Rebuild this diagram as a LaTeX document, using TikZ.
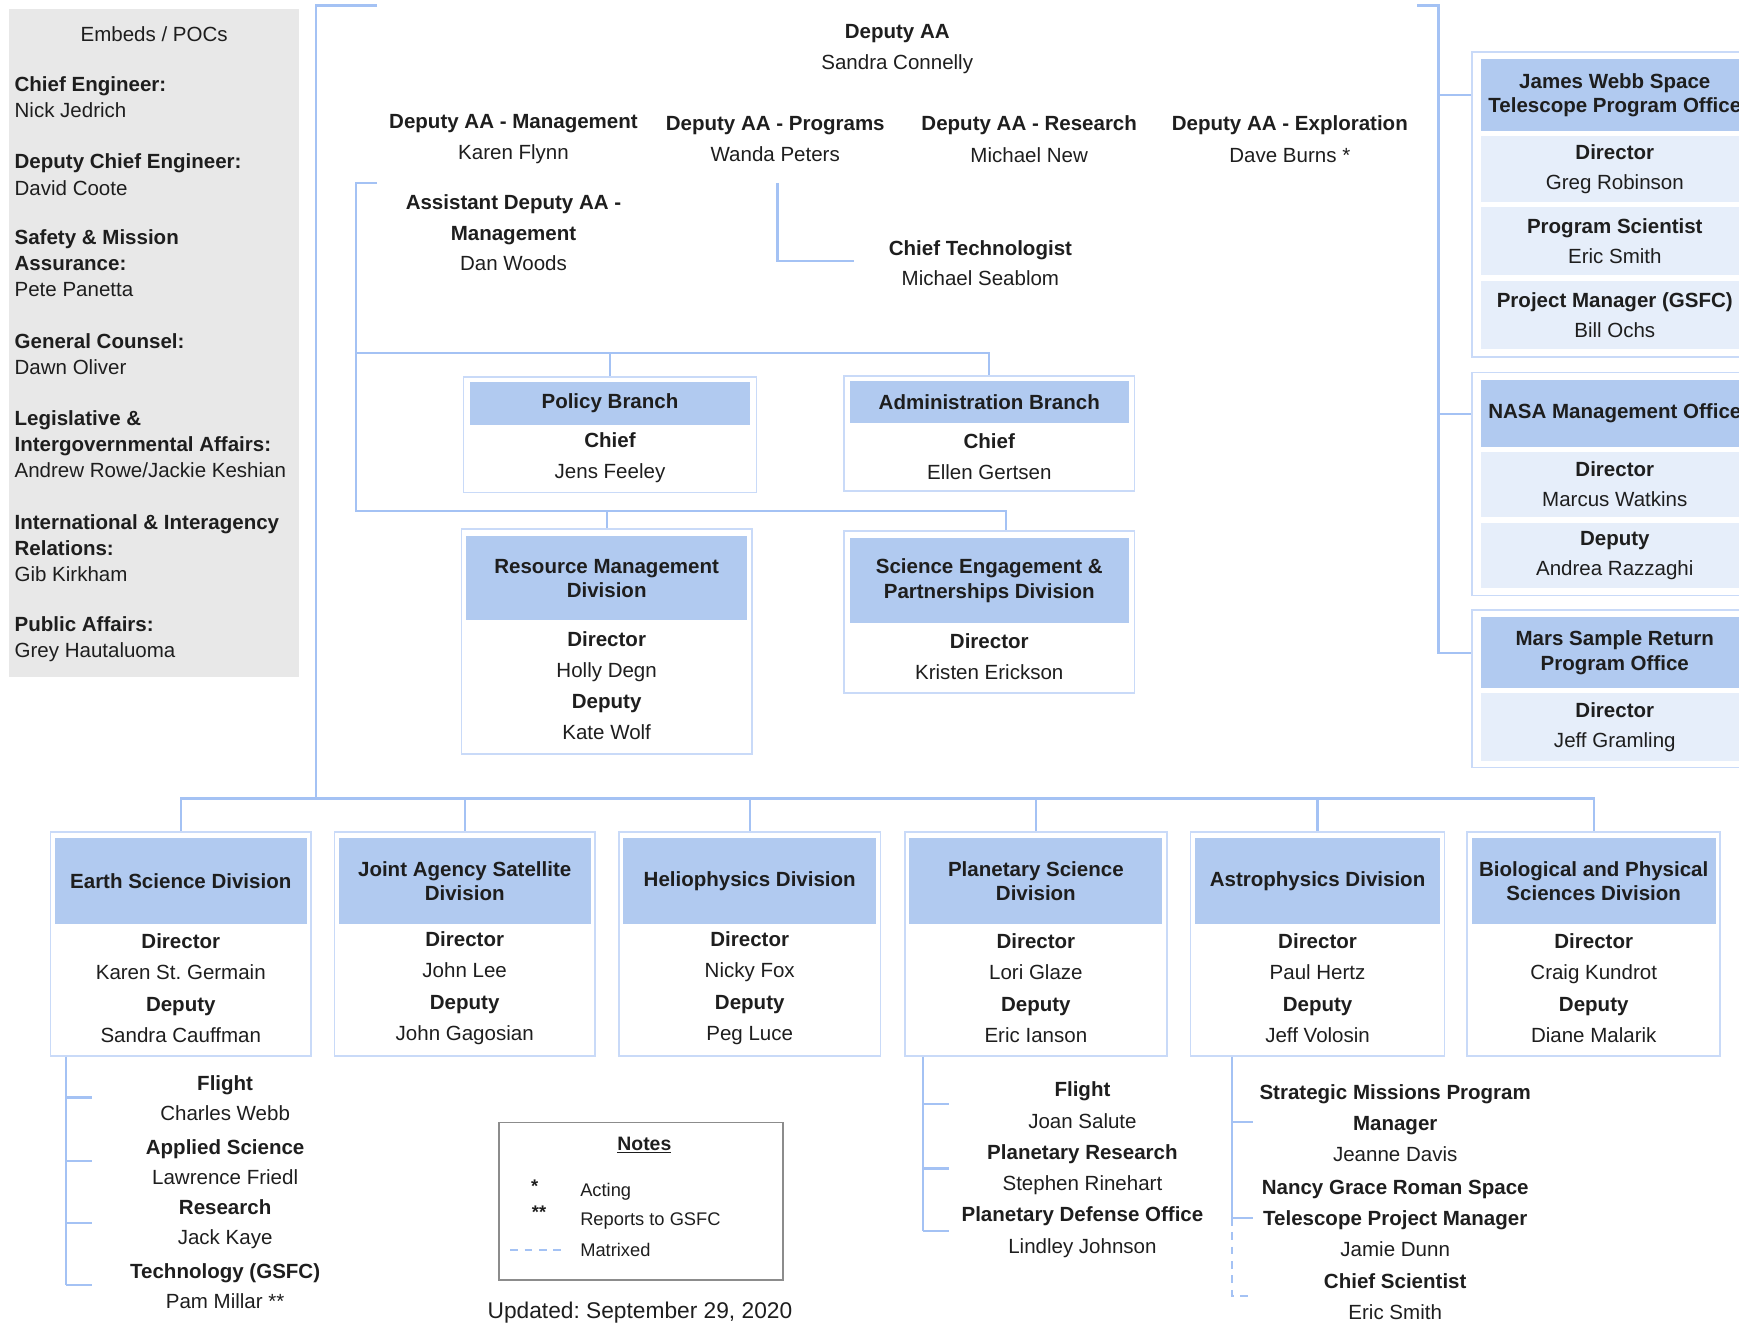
\documentclass[tikz,border=0pt]{standalone}
\usepackage{fontspec}
\setmainfont{Liberation Sans}
\usetikzlibrary{positioning}
\definecolor{linecol}{HTML}{A4C2F4}
\definecolor{framecol}{HTML}{C9DAF8}
\definecolor{headcol}{HTML}{B1CAF0}
\definecolor{cellcol}{HTML}{E6EEFA}
\definecolor{panelcol}{HTML}{E8E8E8}
\definecolor{inkcol}{HTML}{1E1E1E}
\frenchspacing
\begin{document}
\begin{tikzpicture}[x=1pt, y=-1pt,
    every node/.style={font=\fontsize{18.5}{28}\selectfont, text=inkcol, inner sep=0pt},
    chartline/.style={draw=linecol, line width=2pt},
    matrixline/.style={chartline, dash pattern=on 7pt off 6pt},
    boxframe/.style={draw=framecol, line width=1.5pt, fill=white},
    headfill/.style={fill=headcol, align=center, font=\fontsize{18.5}{22}\selectfont\bfseries},
    cellfill/.style={fill=cellcol, align=center, font=\fontsize{18.5}{27}\selectfont},
    nm/.style={align=center, yshift=-1pt},
    embtext/.style={align=left, anchor=west, yshift=-1pt, font=\fontsize{18.5}{23.5}\selectfont},
    notetext/.style={anchor=west, yshift=-1pt, font=\fontsize{16.5}{20}\selectfont},
    notebox/.style={draw=black!45, line width=1.3pt}]

      \useasboundingbox (0,0) rectangle (1568,1193);
      \clip (0,0) rectangle (1568,1193);

      % Embeds / POCs
      \fill[panelcol] (8,8) rectangle (270,610);
      \node[yshift=-1pt] (embHead) at (139,30) {Embeds / POCs};
      \foreach \ent/\gy [count=\k] in {
          {\textbf{Chief Engineer:}\\Nick Jedrich}/87,
          {\textbf{Deputy Chief Engineer:}\\David Coote}/156.5,
          {\textbf{Safety \& Mission}\\\textbf{Assurance:}\\Pete Panetta}/236.5,
          {\textbf{General Counsel:}\\Dawn Oliver}/318,
          {\textbf{Legislative \&}\\\textbf{Intergovernmental Affairs:}\\Andrew Rowe/Jackie Keshian}/399.5,
          {\textbf{International \& Interagency}\\\textbf{Relations:}\\Gib Kirkham}/493,
          {\textbf{Public Affairs:}\\Grey Hautaluoma}/575}{
        \node[embtext] (emb\k) at (13,\gy) {\ent};
      }

      % Deputies
      \node[nm, yshift=-1.5pt] (dAA) at (809,41.5) {\textbf{Deputy AA}\\Sandra Connelly};
      \node[nm, yshift=-1.5pt] (dMgmt) at (463,123) {\textbf{Deputy AA - Management}\\Karen Flynn};
      \node[nm, yshift=-1.5pt] (dProg) at (699,123) {\textbf{Deputy AA - Programs}\\Wanda Peters};
      \node[nm, yshift=-1.5pt] (dRes) at (928,123) {\textbf{Deputy AA - Research}\\Michael New};
      \node[nm, yshift=-1.5pt] (dExp) at (1163,123) {\textbf{Deputy AA - Exploration}\\Dave Burns *};
      \node[nm, yshift=-1.5pt, font=\fontsize{18.5}{27.5}\selectfont] (asst) at (463,207.5)
        {\textbf{Assistant Deputy AA -}\\\textbf{Management}\\Dan Woods};
      \node[nm, yshift=-1.5pt, font=\fontsize{18.5}{27}\selectfont] (ctech) at (884,234.5)
        {\textbf{Chief Technologist}\\Michael Seablom};

      % Branches and divisions under the assistant
      \node[boxframe, minimum width=264pt, minimum height=104pt] (policy) at (550,392) {};
      \node[headfill, minimum width=252pt, minimum height=39pt, below=5pt of policy.north] (policyHead) {Policy Branch};
      \node[nm] (policyBody) at (550,412) {\textbf{Chief}\\Jens Feeley};

      \node[boxframe, minimum width=262pt, minimum height=104pt] (admin) at (892,391) {};
      \node[headfill, minimum width=252pt, minimum height=38pt, below=5pt of admin.north] (adminHead) {Administration Branch};
      \node[nm] (adminBody) at (892,411) {\textbf{Chief}\\Ellen Gertsen};

      \node[boxframe, minimum width=262pt, minimum height=203pt] (resMgmt) at (547,578.5) {};
      \node[headfill, minimum width=253pt, minimum height=76pt, below=7pt of resMgmt.north] (resMgmtHead) {Resource Management\\Division};
      \node[nm] (resMgmtBody) at (547,617.5) {\textbf{Director}\\Holly Degn\\\textbf{Deputy}\\Kate Wolf};

      \node[boxframe, minimum width=262pt, minimum height=146pt] (sciEng) at (892,552) {};
      \node[headfill, minimum width=252pt, minimum height=76pt, below=7pt of sciEng.north] (sciEngHead) {Science Engagement \&\\Partnerships Division};
      \node[nm] (sciEngBody) at (892,591.5) {\textbf{Director}\\Kristen Erickson};

      \coordinate (asstTop) at (340,165);
      \coordinate (asstCorner) at (321,165);
      \coordinate (brHub) at (321,318);
      \coordinate (divHub) at (321,461);
      \coordinate (ctTop) at (701,165);
      \draw[chartline] (asstTop) -- (asstCorner) -- (divHub) -| ([xshift=15pt]sciEng.north);
      \draw[chartline] (brHub) -| (admin.north);
      \draw[chartline] (policy.north) -- (policy.north |- brHub);
      \draw[chartline] (resMgmt.north) -- (resMgmt.north |- divHub);
      \draw[chartline] (ctTop) |- ([xshift=-31pt,yshift=1.5pt]ctech.west);

      % Program offices on the right
      \node[boxframe, minimum width=258pt, minimum height=275pt] (jwst) at (1456,184.5) {};
      \node[headfill, minimum width=242pt, minimum height=65pt, below=7pt of jwst.north] (jwstHead) {James Webb Space\\Telescope Program Office};
      \node[cellfill, minimum width=242pt, minimum height=59pt, below=4pt of jwstHead] (jwstDir) {\textbf{Director}\\Greg Robinson};
      \node[cellfill, minimum width=242pt, minimum height=62pt, below=4pt of jwstDir] (jwstSci) {\textbf{Program Scientist}\\Eric Smith};
      \node[cellfill, minimum width=242pt, minimum height=61pt, below=5pt of jwstSci] (jwstPM) {\textbf{Project Manager (GSFC)}\\Bill Ochs};

      \node[boxframe, minimum width=258pt, minimum height=201pt] (nmo) at (1456,436.5) {};
      \node[headfill, minimum width=242pt, minimum height=61pt, below=7pt of nmo.north] (nmoHead) {NASA Management Office};
      \node[cellfill, minimum width=242pt, minimum height=58pt, below=4pt of nmoHead] (nmoDir) {\textbf{Director}\\Marcus Watkins};
      \node[cellfill, minimum width=242pt, minimum height=59pt, below=5pt of nmoDir] (nmoDep) {\textbf{Deputy}\\Andrea Razzaghi};

      \node[boxframe, minimum width=258pt, minimum height=142pt] (mars) at (1456,621) {};
      \node[headfill, minimum width=242pt, minimum height=64pt, below=7pt of mars.north] (marsHead) {Mars Sample Return\\Program Office};
      \node[cellfill, minimum width=242pt, minimum height=61pt, below=4pt of marsHead] (marsDir) {\textbf{Director}\\Jeff Gramling};

      \coordinate (rTop) at (1278,5);
      \coordinate (rCorner) at (1297,5);
      \draw[chartline] (rTop) -- (rCorner) |- (marsHead -| mars.west);
      \draw[chartline] (rCorner |- jwstHead) -- (jwstHead -| jwst.west);
      \draw[chartline] (rCorner |- nmoHead) -- (nmoHead -| nmo.west);

      % Science divisions
      \foreach \nm/\cx/\bw/\head/\dname/\pname in {
          divES/163/235/{Earth Science Division}/{Karen St. Germain}/{Sandra Cauffman},
          divJA/419/235/{Joint Agency Satellite\\Division}/{John Lee}/{John Gagosian},
          divHP/676/236/{Heliophysics Division}/{Nicky Fox}/{Peg Luce},
          divPS/934/236/{Planetary Science\\Division}/{Lori Glaze}/{Eric Ianson},
          divAP/1188/229/{Astrophysics Division}/{Paul Hertz}/{Jeff Volosin},
          divBP/1437/228/{Biological and Physical\\Sciences Division}/{Craig Kundrot}/{Diane Malarik}}{
        \node[boxframe, minimum width=\bw*1pt, minimum height=202pt] (\nm) at (\cx,851) {};
        \node[headfill, minimum width={(\bw-8)*1pt}, minimum height=78pt, below=6pt of \nm.north] (\nm-head) {\head};
        \node[nm] (\nm-body) at (\cx,890) {\textbf{Director}\\\dname\\\textbf{Deputy}\\\pname};
      }

      \coordinate (topL) at (340,5);
      \coordinate (mainCorner) at (285,5);
      \coordinate (busHub) at (285,720);
      \draw[chartline] (topL) -- (mainCorner) -- (busHub);
      \draw[chartline] (divES.north) |- (divBP.north |- busHub) -- (divBP.north);
      \foreach \nm in {divJA,divHP,divPS,divAP}
        \draw[chartline] (\nm.north) -- (\nm.north |- busHub);

      % Earth Science offices
      \coordinate (esTrunk) at ([xshift=15pt]divES.south west);
      \foreach \ttl/\who/\ey [count=\k] in {Flight/Charles Webb/989.5, Applied Science/Lawrence Friedl/1046.5,
          Research/Jack Kaye/1102.5, Technology (GSFC)/Pam Millar **/1158.5}{
        \node[nm, font=\fontsize{18.5}{27}\selectfont] (es\k) at (203,\ey) {\textbf{\ttl}\\\who};
        \draw[chartline] ([yshift=1pt]esTrunk |- es\k) -- ++(23,0);
      }
      \draw[chartline] (esTrunk) -- ([yshift=1pt]esTrunk |- es4);

      % Planetary Science offices
      \coordinate (psTrunk) at ([xshift=17pt]divPS.south west);
      \foreach \ttl/\who/\ey [count=\k] in {Flight/Joan Salute/995.5, Planetary Research/Stephen Rinehart/1053.5,
          Planetary Defense Office/Lindley Johnson/1110}{
        \node[nm] (ps\k) at (976,\ey) {\textbf{\ttl}\\\who};
        \draw[chartline] ([yshift=1pt]psTrunk |- ps\k) -- ++(23,0);
      }
      \draw[chartline] (psTrunk) -- ([yshift=1pt]psTrunk |- ps3);

      % Astrophysics offices
      \coordinate (apTrunk) at ([xshift=38pt]divAP.south west);
      \node[nm] (apSM) at (1258,1012) {\textbf{Strategic Missions Program}\\\textbf{Manager}\\Jeanne Davis};
      \node[nm] (apRoman) at (1258,1098) {\textbf{Nancy Grace Roman Space}\\\textbf{Telescope Project Manager}\\Jamie Dunn};
      \node[nm] (apCS) at (1258,1168.5) {\textbf{Chief Scientist}\\Eric Smith};
      \draw[chartline] (apTrunk) -- ([yshift=1pt]apTrunk |- apRoman) -- ++(19,0);
      \draw[chartline] ([yshift=1pt]apTrunk |- apSM) -- ++(19,0);
      \draw[matrixline] ([yshift=1pt]apTrunk |- apRoman) -- ([yshift=1pt]apTrunk |- apCS) -- ++(19,0);

      % Notes
      \node[notebox, minimum width=256pt, minimum height=142pt] (notes) at (578,1083) {};
      \node[yshift=-1pt, font=\fontsize{17.5}{20}\selectfont\bfseries] (notesTitle) at (581,1031) {\underline{Notes}};
      \node[font=\fontsize{16.5}{20}\selectfont\bfseries] (starOne) at (482,1070) {*};
      \node[font=\fontsize{16.5}{20}\selectfont\bfseries] (starTwo) at (486,1093) {**};
      \node[notetext] (acting) at (523,1074) {Acting};
      \node[notetext] (gsfc) at (523,1100) {Reports to GSFC};
      \node[notetext] (matrixed) at (523,1126) {Matrixed};
      \coordinate (dashA) at (460,1127);
      \draw[matrixline] (dashA) -- ([xshift=-13pt]dashA -| matrixed.west);
      \node[font=\fontsize{20.5}{24}\selectfont] (updated) at (577,1183.5) {Updated: September 29, 2020};
    \end{tikzpicture}
\end{document}
